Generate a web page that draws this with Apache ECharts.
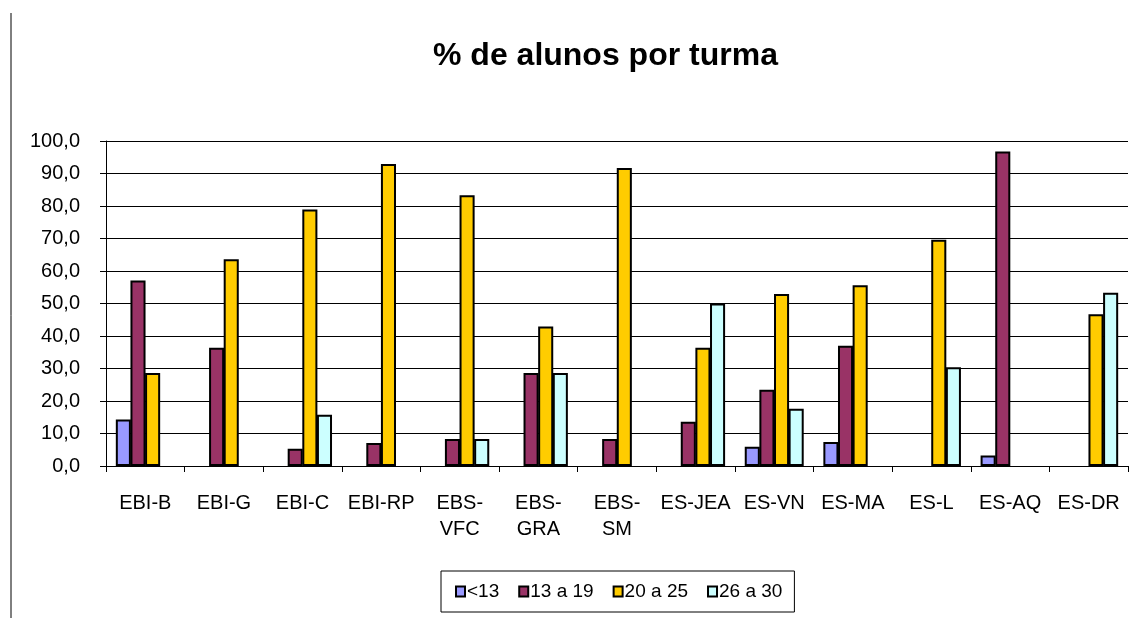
<!DOCTYPE html>
<html>
<head>
<meta charset="utf-8">
<script src="https://cdn.jsdelivr.net/npm/echarts@6/dist/echarts.min.js"></script>
<style>
html,body{margin:0;padding:0;background:#fff;}
#chart{width:1143px;height:618px;}
</style>
</head>
<body>
<div id="chart"></div>
<script>
const categories = ["EBI-B","EBI-G","EBI-C","EBI-RP","EBS-VFC","EBS-GRA","EBS-SM","ES-JEA","ES-VN","ES-MA","ES-L","ES-AQ","ES-DR"];
const seriesNames = ["<13","13 a 19","20 a 25","26 a 30"];
const lt13 =    [14.3, null, null, null, null, null, null, null, 5.9, 7.4, null, 3.2, null];
const a13_19 =  [57.1, 36.4, 5.3, 7.1, 8.3, 28.6, 8.3, 13.6, 23.5, 37.0, null, 96.8, null];
const a20_25 =  [28.6, 63.6, 78.9, 92.9, 83.3, 42.9, 91.7, 36.4, 52.9, 55.6, 69.6, null, 46.7];
const a26_30 =  [null, null, 15.8, null, 8.3, 28.6, null, 50.0, 17.6, null, 30.4, null, 53.3];
const yTicks = [0,10,20,30,40,50,60,70,80,90,100];

const colors = ["#9999FF","#993366","#FFCC00","#CCFFFF"];
const values = [lt13, a13_19, a20_25, a26_30];
const font = "'Liberation Sans', Arial, sans-serif";

const chart = echarts.init(document.getElementById('chart'), null, {renderer:'canvas'});
chart.setOption({
  animation:false,
  backgroundColor:'#ffffff',
  title:{
    text:'% de alunos por turma',
    left:428, top:35,
    textStyle:{fontFamily:font, fontWeight:'bold', fontSize:32, color:'#000'}
  },
  legend:{
    data:seriesNames,
    left:441, top:571,
    width:352,
    padding:[11,12,11,14],
    borderColor:'#000', borderWidth:1,
    itemWidth:9, itemHeight:10, itemGap:19,
    icon:'rect',
    itemStyle:{borderColor:'#000', borderWidth:2},
    textStyle:{fontFamily:font, fontSize:19, color:'#000', padding:[0,0,0,-3]}
  },
  grid:{left:106, right:15, top:141, bottom:152, containLabel:false},
  xAxis:{
    type:'category',
    data:categories,
    axisLine:{lineStyle:{color:'#000', width:1}},
    axisTick:{show:true, length:6, lineStyle:{color:'#000'}},
    axisLabel:{
      fontFamily:font, fontSize:20, color:'#000', margin:24, lineHeight:26,
      interval:0,
      formatter:function(v){ return v.indexOf('EBS-')===0 ? v.replace('-','-\n') : v; }
    }
  },
  yAxis:{
    type:'value', min:0, max:100, interval:10,
    axisLine:{show:true, lineStyle:{color:'#000', width:1}},
    axisTick:{show:true, length:6, lineStyle:{color:'#000'}},
    splitLine:{show:true, lineStyle:{color:'#000', width:1}},
    axisLabel:{
      fontFamily:font, fontSize:20, color:'#000', margin:26,
      formatter:function(v){ return yTicks.indexOf(v)>=0 ? v.toFixed(1).replace('.',',') : ''; }
    }
  },
  graphic:[{
    type:'line', shape:{x1:11, y1:13, x2:11, y2:618},
    style:{stroke:'#000', lineWidth:1}
  }],
  series: seriesNames.map(function(name,i){
    return {
      name:name, type:'bar',
      data:values[i],
      barGap:'-3%', barCategoryGap:'25%',
      itemStyle:{color:colors[i], borderColor:'#000', borderWidth:2}
    };
  })
});
</script>
</body>
</html>
